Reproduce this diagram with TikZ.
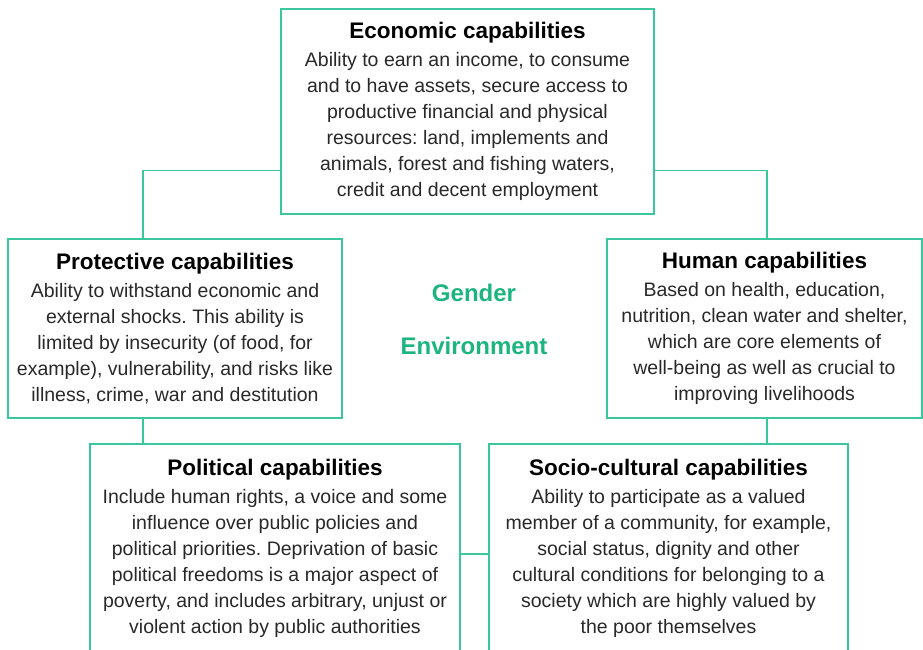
\documentclass[tikz,border=0pt]{standalone}
\usepackage{fontspec}
\setmainfont{Liberation Sans}
\frenchspacing

\definecolor{capgreen}{RGB}{58,199,158}
\definecolor{gengreen}{RGB}{28,181,125}
\definecolor{captext}{RGB}{40,40,40}

\newcommand{\captitle}[1]{{\fontsize{22.5}{26}\bfseries\color{black}#1}\\[2pt]}

\begin{document}
\begin{tikzpicture}[x=1pt,y=-1pt,
	capbox/.style={draw=capgreen,line width=1.2pt,align=center,inner sep=0pt,
		text=captext,font=\fontsize{19.5}{26}\selectfont},
	link/.style={draw=capgreen,line width=1.2pt},
	theme/.style={text=gengreen,font=\fontsize{24}{28}\selectfont\bfseries}]
	\path[use as bounding box,clip] (0,0) rectangle (923,649);
	
	% boxes
	\node[capbox,minimum width=373pt,minimum height=205pt] (econ) at (467.5,111.5)
	{\captitle{Economic capabilities}
		Ability to earn an income, to consume\\
		and to have assets, secure access to\\
		productive financial and physical\\
		resources: land, implements and\\
		animals, forest and fishing waters,\\
		credit and decent employment};
	
	\node[capbox,minimum width=334pt,minimum height=179pt] (prot) at (175,328.5)
	{\captitle{Protective capabilities}
		Ability to withstand economic and\\
		external shocks. This ability is\\
		limited by insecurity (of food, for\\
		example), vulnerability, and risks like\\
		illness, crime, war and destitution};
	
	\node[capbox,minimum width=315pt,minimum height=179pt] (human) at (764.5,328.5)
	{\captitle{Human capabilities}
		Based on health, education,\\
		nutrition, clean water and shelter,\\
		which are core elements of\\
		well-being as well as crucial to\\
		improving livelihoods};
	
	\node[capbox,minimum width=370pt,minimum height=208pt] (polit) at (275,548)
	{\captitle{Political capabilities}
		Include human rights, a voice and some\\
		influence over public policies and\\
		political priorities. Deprivation of basic\\
		political freedoms is a major aspect of\\
		poverty, and includes arbitrary, unjust or\\
		violent action by public authorities};
	
	\node[capbox,minimum width=359pt,minimum height=208pt] (socio) at (668.5,548)
	{\captitle{Socio-cultural capabilities}
		Ability to participate as a valued\\
		member of a community, for example,\\
		social status, dignity and other\\
		cultural conditions for belonging to a\\
		society which are highly valued by\\
		the poor themselves};
	
	% centre words
	\node[theme] (gender) at (474,293) {Gender};
	\node[theme] (envir) at (474,346) {Environment};
	
	% links
	\draw[link] ([yshift=44pt]econ.south west) -| ([xshift=-32pt]prot.north);
	\draw[link] ([yshift=44pt]econ.south east) -| ([xshift=2.5pt]human.north);
	\draw[link] ([xshift=-32pt]prot.south) -- ([xshift=-32pt]prot.south |- polit.north);
	\draw[link] ([xshift=2.5pt]human.south) -- ([xshift=2.5pt]human.south |- socio.north);
	\draw[link] ([yshift=-6pt]polit.east) -- ([yshift=-6pt]polit.east -| socio.west);
\end{tikzpicture}
\end{document}
